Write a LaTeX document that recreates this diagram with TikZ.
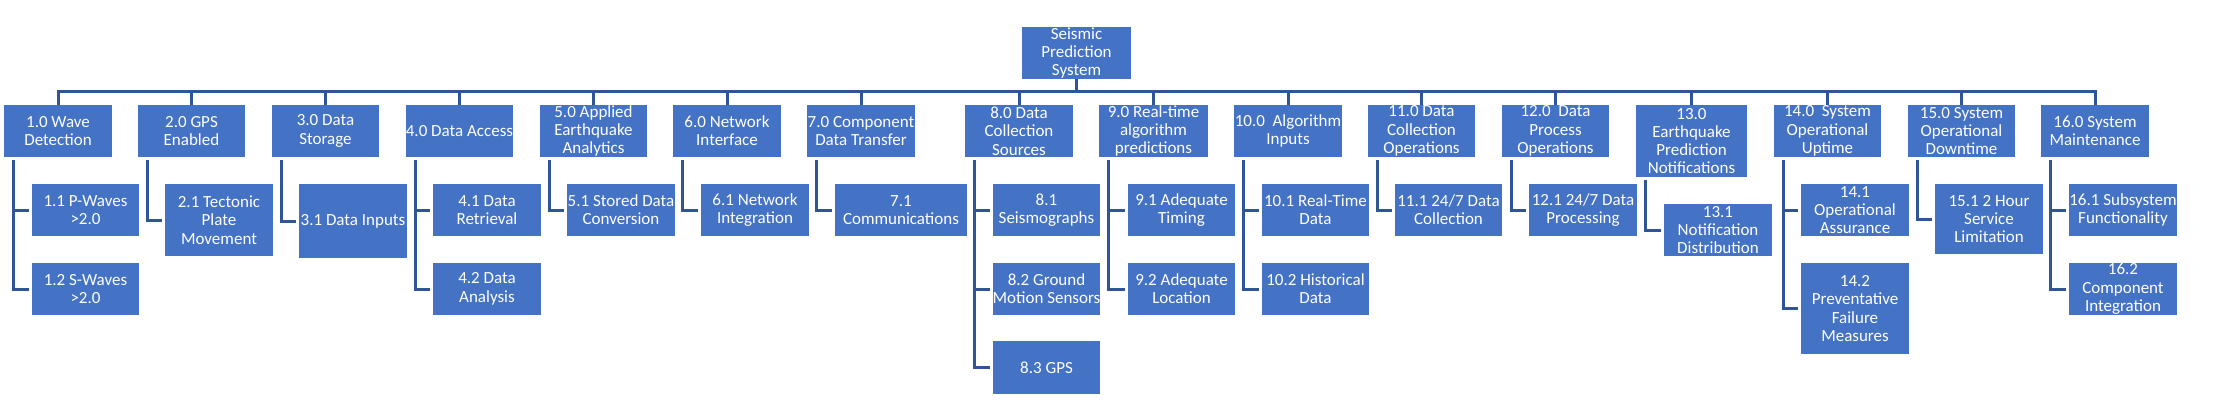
\documentclass[tikz,border=0pt]{standalone}
\usepackage{fontspec}
\setmainfont{Carlito}
\definecolor{boxBlue}{HTML}{4472C4}
\definecolor{lineBlue}{HTML}{2F5597}
% box from its corners (left, top, right, bottom), text on top
\newcommand\wbsnode[6]{%
  \node[wbsbox, minimum width={#4-#2}, minimum height={#5-#3}] (#1) at ({(#2+#4)/2},{(#3+#5)/2}) {};
  \node[wbstext] at (#1.center) {#6};
}

\begin{document}
\begin{tikzpicture}[
  x=1pt, y=-1pt,
  wbsbox/.style={
    fill=boxBlue,
    draw=none,
    inner sep=0pt,
  },
  wbstext/.style={
    text=white,
    align=center,
    inner sep=0pt,
    font=\fontsize{17}{18.3}\selectfont,
  },
  wbslink/.style={
    draw=lineBlue,
    line width=3pt,
  }
]
\useasboundingbox (0,0) rectangle (2220,409);

\wbsnode{root}{1022}{27}{1131}{79}{Seismic\\Prediction\\System}

% level one
\wbsnode{p1}{4}{105}{112}{157}{1.0 Wave\\Detection}
\wbsnode{p2}{138}{105}{245}{157}{2.0 GPS\\Enabled}
\wbsnode{p3}{272}{105}{379}{157}{3.0 Data\\Storage}
\wbsnode{p4}{406}{105}{513}{157}{4.0 Data Access}
\wbsnode{p5}{540}{105}{647}{157}{5.0 Applied\\Earthquake\\Analytics}
\wbsnode{p6}{673}{105}{781}{157}{6.0 Network\\Interface}
\wbsnode{p7}{807}{105}{915}{157}{7.0 Component\\Data Transfer}
\wbsnode{p8}{965}{105}{1073}{157}{8.0 Data\\Collection\\Sources}
\wbsnode{p9}{1099}{105}{1208}{157}{9.0 Real-time\\algorithm\\predictions}
\wbsnode{p10}{1234}{105}{1342}{157}{10.0\ \ Algorithm\\Inputs}
\wbsnode{p11}{1368}{105}{1475}{157}{11.0 Data\\Collection\\Operations}
\wbsnode{p12}{1502}{105}{1609}{157}{12.0\ \ Data\\Process\\Operations}
\wbsnode{p13}{1636}{105}{1747}{177}{13.0\\Earthquake\\Prediction\\Notifications}
\wbsnode{p14}{1774}{105}{1881}{157}{14.0\ \ System\\Operational\\Uptime}
\wbsnode{p15}{1908}{105}{2015}{157}{15.0 System\\Operational\\Downtime}
\wbsnode{p16}{2041}{105}{2149}{157}{16.0 System\\Maintenance}

% level two
\wbsnode{c1-1}{32}{184}{139}{236}{1.1 P-Waves\\>2.0}
\wbsnode{c1-2}{32}{263}{139}{315}{1.2 S-Waves\\>2.0}
\wbsnode{c2-1}{165}{184}{273}{256}{2.1 Tectonic\\Plate\\Movement}
\wbsnode{c3-1}{299}{184}{407}{258}{3.1 Data Inputs}
\wbsnode{c4-1}{433}{184}{541}{236}{4.1 Data\\Retrieval}
\wbsnode{c4-2}{433}{263}{541}{315}{4.2 Data\\Analysis}
\wbsnode{c5-1}{567}{184}{675}{236}{5.1 Stored Data\\Conversion}
\wbsnode{c6-1}{701}{184}{809}{236}{6.1 Network\\Integration}
\wbsnode{c7-1}{835}{184}{967}{236}{7.1\\Communications}
\wbsnode{c8-1}{993}{184}{1100}{236}{8.1\\Seismographs}
\wbsnode{c8-2}{993}{263}{1100}{315}{8.2 Ground\\Motion Sensors}
\wbsnode{c8-3}{993}{341}{1100}{394}{8.3 GPS}
\wbsnode{c9-1}{1128}{184}{1235}{236}{9.1 Adequate\\Timing}
\wbsnode{c9-2}{1128}{263}{1235}{315}{9.2 Adequate\\Location}
\wbsnode{c10-1}{1262}{184}{1369}{236}{10.1 Real-Time\\Data}
\wbsnode{c10-2}{1262}{263}{1369}{315}{10.2 Historical\\Data}
\wbsnode{c11-1}{1395}{184}{1502}{236}{11.1 24/7 Data\\Collection}
\wbsnode{c12-1}{1529}{184}{1637}{236}{12.1 24/7 Data\\Processing}
\wbsnode{c13-1}{1664}{204}{1772}{256}{13.1\\Notification\\Distribution}
\wbsnode{c14-1}{1801}{184}{1909}{236}{14.1\\Operational\\Assurance}
\wbsnode{c14-2}{1801}{263}{1909}{354}{14.2\\Preventative\\Failure\\Measures}
\wbsnode{c15-1}{1935}{184}{2043}{254}{15.1 2 Hour\\Service\\Limitation}
\wbsnode{c16-1}{2069}{184}{2177}{236}{16.1 Subsystem\\Functionality}
\wbsnode{c16-2}{2069}{263}{2177}{315}{16.2\\Component\\Integration}

% bus from the root to each level-one box
\coordinate (bus) at (0,92);
\foreach \k in {1,...,16}
  \draw[wbslink] (root.south) |- (p\k.north |- bus) -- (p\k.north);

% elbows down to the children
\foreach \p/\c in {p1/c1-1, p1/c1-2, p2/c2-1, p3/c3-1, p4/c4-1, p4/c4-2,
    p5/c5-1, p6/c6-1, p7/c7-1, p8/c8-1, p8/c8-2, p8/c8-3, p9/c9-1, p9/c9-2,
    p10/c10-1, p10/c10-2, p11/c11-1, p12/c12-1, p13/c13-1, p14/c14-1,
    p14/c14-2, p15/c15-1, p16/c16-1, p16/c16-2}
  \draw[wbslink] ([xshift=9.5pt,yshift=-3pt]\p.south west) |- ([xshift=-3pt]\c.west);
\end{tikzpicture}
\end{document}
